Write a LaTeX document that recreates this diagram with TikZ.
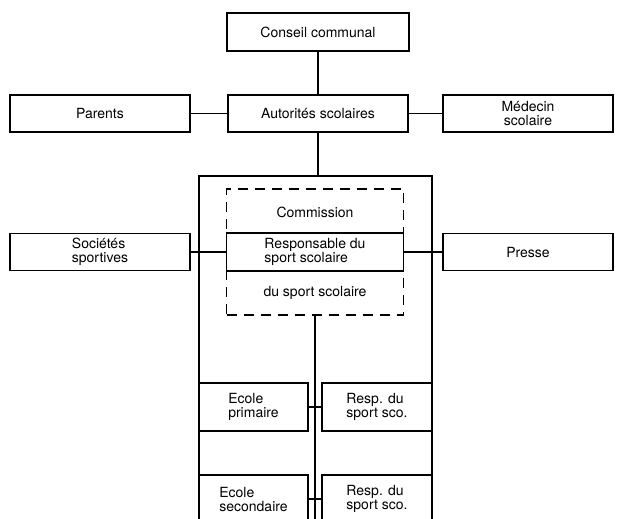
\documentclass[tikz,border=0pt]{standalone}
\usepackage{fontspec}
\setmainfont{TeX Gyre Heros}
\usetikzlibrary{calc}
\tikzset{
    boite/.style={draw,line width=1.1pt,inner sep=0pt,minimum height=37pt,
      font=\fontsize{14}{14}\selectfont,align=left},
    pointilles/.style={draw,line width=1.1pt,inner sep=0pt,dash pattern=on 10pt off 7pt},
    trait/.style={line width=1.1pt},
  }
\begin{document}
\begin{tikzpicture}[x=1pt,y=-1pt]
				  \useasboundingbox (0,0) rectangle (618,519);
				  \clip (0,0) rectangle (618,519);
				  
				  %HAUT
				  \node[boite,minimum width=182pt,minimum height=38pt](conseil) at (318,32) {Conseil communal};
				  \node[boite,minimum width=180pt](parents) at (100,113.5) {Parents};
				  \node[boite,minimum width=180pt](autorites) at (318,113.5) {Autorités scolaires};
				  \node[boite,minimum width=170pt,align=center](medecin) at (528,113.5) {Médecin\\scolaire};
				  \draw[trait] (conseil) -- (autorites);
				  \draw[trait] (parents) -- (autorites);
				  \draw[trait] (autorites) -- (medecin);
				  
				  %CADRE
				  \coordinate (cadre) at (318,176);
				  \draw[trait] (199,530) -- (199,176) -- (432,176) -- (432,530);
				  \draw[trait] (autorites) -- (cadre);
				  
				  %COMMISSION
				  \node[pointilles,minimum width=177pt,minimum height=126pt](commission) at (315,252) {};
				  \node[font=\fontsize{14}{14}\selectfont](titre) at (315,212) {Commission};
				  \node[boite,fill=white,minimum width=177pt,minimum height=38pt](responsable) at (315,252) {Responsable du\\sport scolaire};
				  \node[font=\fontsize{14}{14}\selectfont](soustitre) at (315,293) {du sport scolaire};
				  \node[boite,minimum width=180pt](societes) at (100,252) {Sociétés\\sportives};
				  \node[boite,minimum width=170pt](presse) at (528,252) {Presse};
				  \draw[trait] (societes) -- (responsable);
				  \draw[trait] (responsable) -- (presse);
				  
				  %ECOLES
				  \coordinate (bas) at (315,530);
				  \draw[trait] (commission.south) -- (bas);
				  \node[boite,minimum width=109pt,minimum height=48pt](primaire) at (253.5,407) {Ecole\\primaire};
				  \node[boite,minimum width=110pt,minimum height=48pt](resp1) at (377,407) {Resp. du\\sport sco.};
				  \node[boite,minimum width=109pt,minimum height=48pt](secondaire) at (253.5,499) {Ecole\\secondaire};
				  \node[boite,minimum width=110pt,minimum height=48pt](resp2) at (377,499) {Resp. du\\sport sco.};
				  \draw[trait] (primaire) -- (resp1);
				  \draw[trait] (secondaire) -- (resp2);
				  \end{tikzpicture}
\end{document}
